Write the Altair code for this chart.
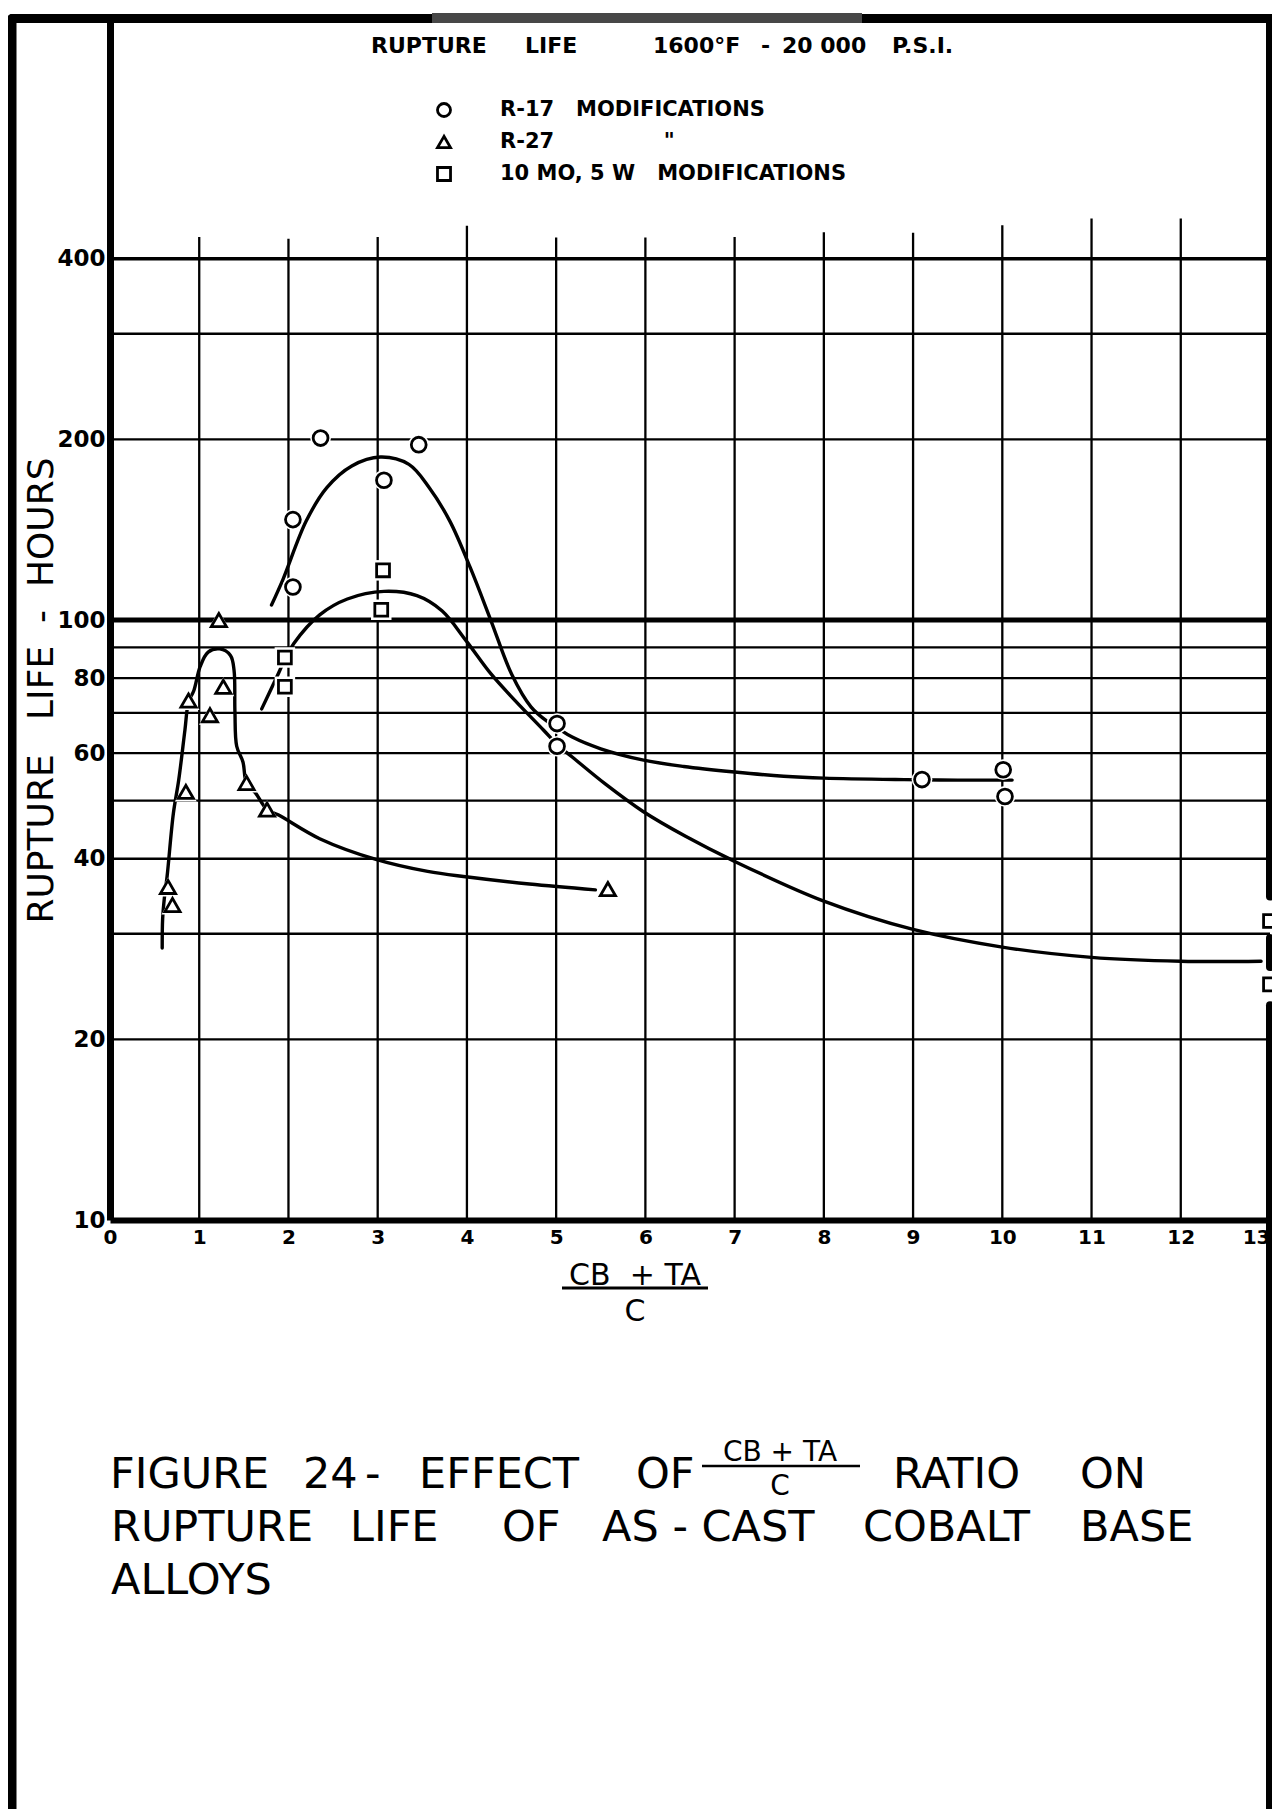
import altair as alt
import pandas as pd

# ---------------- values ----------------
series_keys = ["R-17", "R-27", "10 MO, 5 W"]

# measured points
r17_x = [2.36, 3.46, 3.07, 2.05, 2.05, 5.01, 5.01, 9.10, 10.01, 10.03]
r17_y = [201.0, 196.0, 171.0, 147.0, 113.5, 67.2, 61.6, 54.2, 56.3, 50.8]

r27_x = [1.22, 0.88, 1.27, 1.12, 0.85, 1.53, 1.76, 0.65, 0.70, 5.58]
r27_y = [100.0, 73.4, 77.4, 69.4, 51.7, 53.5, 48.3, 35.9, 33.5, 35.6]

mow_x = [3.06, 3.04, 1.96, 1.96, 13.0, 13.0]
mow_y = [121.0, 104.0, 86.6, 77.4, 31.5, 24.7]

# hand-drawn curves
c17_x = [1.81, 1.94, 2.20, 2.43, 2.71, 3.03, 3.35, 3.58, 3.81, 4.04, 4.27, 4.50,
         4.72, 4.91, 5.02, 5.18, 5.50, 5.98, 6.43, 7.00, 7.55, 8.00, 8.90, 9.50, 10.11]
c17_y = [105.9, 117.0, 146.3, 166.2, 180.6, 186.9, 181.7, 166.0, 146.0, 122.0, 99.7, 81.3,
         71.6, 67.6, 66.0, 63.8, 61.0, 58.4, 57.0, 55.8, 54.9, 54.5, 54.2, 54.1, 54.1]

c27_x = [0.585, 0.59, 0.61, 0.64, 0.71, 0.77, 0.84, 0.88, 0.94, 1.01, 1.10, 1.23, 1.35,
         1.39, 1.40, 1.42, 1.49, 1.53, 1.63, 1.76, 1.89, 2.35, 2.98, 3.56, 4.01, 4.70, 5.44]
c27_y = [28.4, 31.8, 34.5, 37.4, 47.6, 54.1, 65.6, 73.0, 76.3, 83.6, 88.4, 89.5, 87.3,
         82.5, 70.4, 61.6, 58.0, 53.5, 51.5, 48.3, 47.3, 43.2, 39.9, 38.1, 37.3, 36.3, 35.5]

cmw_x = [1.70, 1.87, 1.96, 2.06, 2.35, 2.66, 3.07, 3.44, 3.72, 3.99, 4.27, 4.54, 4.86,
         5.02, 5.18, 5.55, 5.97, 6.45, 7.00, 8.00, 9.00, 10.00, 11.00, 12.00, 12.90]
cmw_y = [71.1, 80.4, 86.0, 91.4, 102.0, 108.4, 111.6, 109.8, 103.6, 92.4, 81.3, 73.4, 65.5,
         61.8, 59.1, 53.3, 48.0, 43.6, 39.6, 34.0, 30.5, 28.5, 27.4, 27.0, 27.0]

# grid of the printed paper
x_ticks = list(range(0, 14))
y_labels = [10, 20, 40, 60, 80, 100, 200, 400]
hgrid_thin = [20, 30, 40, 50, 60, 70, 80, 90, 200, 300]
vgrid_x = list(range(1, 13))
vgrid_top = [435, 432, 435, 454, 434, 434, 435, 443, 442, 455, 467, 467]
# right border pieces (broken round the two squares)
border_top = [None, 29.5, 22.8]
border_bottom = [34.6, 26.4, 10]

legend_text = {
    "R-17": "R-17\u00a0\u00a0\u00a0MODIFICATIONS",
    "R-27": "R-27" + "\u00a0" * 15 + '"',
    "10 MO, 5 W": "10 MO, 5 W\u00a0\u00a0\u00a0MODIFICATIONS",
}

# ---------------- layout ----------------
W, H = 1160, 1201
DECADE = 600
YMAX = 10 ** (1 + H / DECADE)
PB = 589
FONT = "DejaVu Sans"
NB = "\u00a0"

xs = alt.Scale(domain=[0, 13], nice=False, zero=False)
ys = alt.Scale(type="log", domain=[10, YMAX], nice=False)

x_axis = alt.Axis(values=x_ticks, format="d", labelFontSize=20, labelFontWeight="bold",
                  labelPadding=7, labelOverlap=False, labelBound=False, labelFlush=False,
                  labelAlign=alt.condition("datum.value == 13", alt.value("right"), alt.value("center")),
                  ticks=False, grid=False, domainColor="black", domainWidth=6,
                  labelColor="black", labelFont=FONT,
                  title=["CB" + NB + NB + "+" + NB + "TA", "C"], titleFontSize=30,
                  titleFontWeight="normal", titleColor="black", titleFont=FONT,
                  titleX=524.5, titleY=64, titleAlign="center",
                  titleBaseline="alphabetic", titleLineHeight=36)
y_axis = alt.Axis(values=y_labels, format="d", labelFontSize=23, labelFontWeight="bold",
                  labelPadding=5, labelOverlap=False, labelColor="black", labelFont=FONT,
                  ticks=False, grid=False, domainColor="black", domainWidth=7,
                  title="RUPTURE" + NB * 3 + "LIFE" + NB * 2 + "-" + NB * 2 + "HOURS",
                  titleFontSize=36, titleFontWeight="normal", titleColor="black",
                  titleFont=FONT, titleX=-69, titleY=671, titleAngle=270,
                  titleAlign="center", titleBaseline="middle")

X = alt.X("x:Q", scale=xs, axis=x_axis)
Y = alt.Y("y:Q", scale=ys, axis=y_axis)

dummy = pd.DataFrame({"d": [0]})

layers = []

# horizontal grid
hg = pd.DataFrame({"y": hgrid_thin, "x": 0, "x2": 13})
layers.append(alt.Chart(hg).mark_rule(color="black", strokeWidth=2.3).encode(x=X, x2="x2:Q", y=Y))
layers.append(alt.Chart(pd.DataFrame({"y": [100], "x": 0, "x2": 13}))
              .mark_rule(color="black", strokeWidth=5).encode(x=X, x2="x2:Q", y=Y))
layers.append(alt.Chart(pd.DataFrame({"y": [400], "x": 0, "x2": 13}))
              .mark_rule(color="black", strokeWidth=3.5).encode(x=X, x2="x2:Q", y=Y))
# vertical grid
vg = pd.DataFrame({"x": vgrid_x, "y": 10, "y2": vgrid_top})
layers.append(alt.Chart(vg).mark_rule(color="black", strokeWidth=2.3).encode(x=X, y=Y, y2="y2:Q"))

# right border (x = 13)
bt = [YMAX if v is None else v for v in border_top]
rb = pd.DataFrame({"x": 13, "y": bt, "y2": border_bottom})
layers.append(alt.Chart(rb).mark_rule(color="black", strokeWidth=8, strokeCap="round")
              .encode(x=X, y=Y, y2="y2:Q"))
layers.append(alt.Chart(dummy).mark_rule(color="black", strokeWidth=8)
              .encode(x=alt.value(W), y=alt.value(H), y2=alt.value(H + PB)))
# outer frame
layers.append(alt.Chart(dummy).mark_rule(color="black", strokeWidth=9, strokeCap="round")
              .encode(x=alt.value(-98), x2=alt.value(W + 2), y=alt.value(-0.5)))
layers.append(alt.Chart(dummy).mark_rule(color="black", strokeWidth=9, strokeCap="round")
              .encode(x=alt.value(-98), y=alt.value(-0.5), y2=alt.value(H + PB)))
layers.append(alt.Chart(dummy).mark_rect(color="#474747")
              .encode(x=alt.value(322), x2=alt.value(752), y=alt.value(-6), y2=alt.value(4)))

# curves
def curve(xv, yv, key):
    return pd.DataFrame({"x": xv, "y": yv, "s": key, "i": range(len(xv))})

cv = pd.concat([curve(c17_x, c17_y, "c17"), curve(c27_x, c27_y, "c27"),
                curve(cmw_x, cmw_y, "cmw")], ignore_index=True)
layers.append(alt.Chart(cv).mark_line(color="black", strokeWidth=3.4, interpolate="catmull-rom",
                                      strokeCap="round", strokeJoin="round")
              .encode(x=X, y=Y, detail="s:N", order="i:Q"))

# points
pts = pd.DataFrame({
    "x": r17_x + r27_x + mow_x,
    "y": r17_y + r27_y + mow_y,
    "s": [series_keys[0]] * len(r17_x) + [series_keys[1]] * len(r27_x)
         + [series_keys[2]] * len(mow_x),
})
shapes = ["circle", "triangle-up", "square"]
halo_size = [430, 480, 420]
mark_size = [220, 230, 165]

# white halos (also give the open symbols a white inside)
for k, shp, hs in zip(series_keys, shapes, halo_size):
    layers.append(alt.Chart(pts).transform_filter(alt.datum.s == k)
                  .mark_point(shape=shp, size=hs, filled=True, color="white", opacity=1)
                  .encode(x=X, y=Y))

expr = ("datum.label == 'R-17' ? '" + legend_text["R-17"] + "' : datum.label == 'R-27' ? '"
        + legend_text["R-27"] + "' : '" + legend_text["10 MO, 5 W"] + "'")
legend = alt.Legend(orient="none", legendX=323.5, legendY=80.5, title=None, padding=0,
                    labelFontSize=21, labelFontWeight="bold", labelColor="black",
                    labelFont=FONT, labelLimit=600, labelOffset=45.5, rowPadding=8,
                    symbolSize=170, symbolStrokeWidth=2.8, labelExpr=expr)
shape_enc = alt.Shape("s:N", scale=alt.Scale(domain=series_keys, range=shapes), legend=legend)
for k, ms in zip(series_keys, mark_size):
    layers.append(alt.Chart(pts).transform_filter(alt.datum.s == k)
                  .mark_point(size=ms, filled=False, color="black", strokeWidth=2.8, opacity=1)
                  .encode(x=X, y=Y, shape=shape_enc))

# texts
def txt(s, px, py, size, weight="normal", align="left"):
    return (alt.Chart(dummy)
            .mark_text(text=s, fontSize=size, fontWeight=weight, align=align,
                       baseline="alphabetic", font=FONT, color="black")
            .encode(x=alt.value(px), y=alt.value(py)))

layers += [
    txt("RUPTURE" + NB * 5 + "LIFE", 261, 34, 22, "bold"),
    txt("1600°F", 543, 34, 22, "bold"),
    txt("-", 651, 34, 22, "bold"),
    txt("20" + NB + "000", 672, 34, 22, "bold"),
    txt("P.S.I.", 782, 34, 22, "bold"),
]
# x-axis title fraction bar
layers.append(alt.Chart(dummy).mark_rule(color="black", strokeWidth=3)
              .encode(x=alt.value(452), x2=alt.value(598), y=alt.value(1269)))

# caption
L1, L2, L3 = 1469, 1522, 1575
cap = [("FIGURE", 0, L1), ("24", 193, L1), ("-", 255, L1), ("EFFECT", 309, L1),
       ("OF", 526, L1), ("RATIO", 783, L1), ("ON", 970, L1),
       ("RUPTURE", 1, L2), ("LIFE", 240, L2), ("OF", 392, L2), ("AS - CAST", 492, L2),
       ("COBALT", 753, L2), ("BASE", 970, L2), ("ALLOYS", 1, L3)]
for s, px, py in cap:
    layers.append(txt(s, px, py, 43))
layers.append(txt("CB" + NB + "+" + NB + "TA", 670, 1442, 28, align="center"))
layers.append(txt("C", 670, 1476, 28, align="center"))
layers.append(alt.Chart(dummy).mark_rule(color="black", strokeWidth=2.5)
              .encode(x=alt.value(592), x2=alt.value(750), y=alt.value(1447)))

chart = (alt.layer(*layers)
         .properties(width=W, height=H, background="white",
                     padding={"left": 102, "top": 11, "right": 2, "bottom": PB},
                     autosize=alt.AutoSizeParams(type="none"))
         .configure_view(stroke=None))

chart.save("out.html", embed_options={"renderer": "svg", "actions": False})
